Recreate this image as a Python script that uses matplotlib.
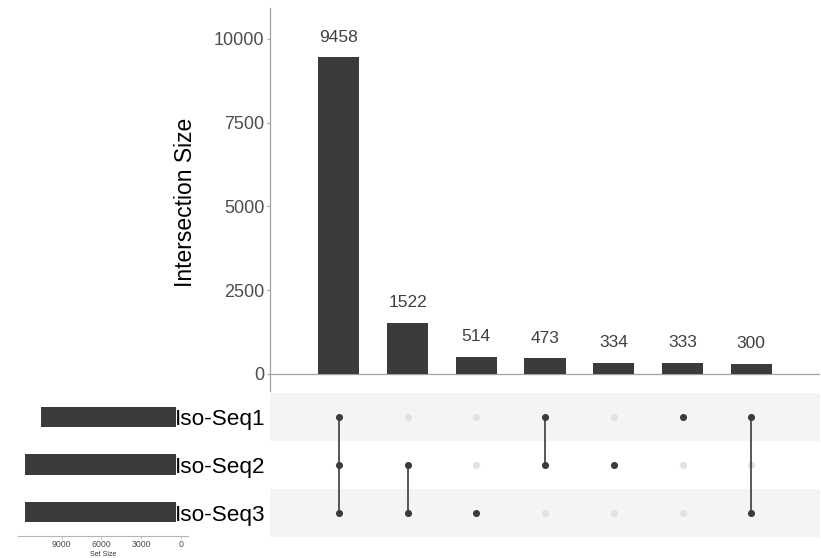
import matplotlib
matplotlib.use("Agg")
import matplotlib.pyplot as plt
from matplotlib.patches import Rectangle

plt.rcParams['font.family'] = ['Liberation Sans', 'DejaVu Sans']

# Sets and their total sizes
set_names = ["Iso-Seq1", "Iso-Seq2", "Iso-Seq3"]
set_sizes = [10564, 11787, 11794]

# Intersections (ordered by size) and which sets take part in each
intersection_sizes = [9458, 1522, 514, 473, 334, 333, 300]
intersection_members = [
    ["Iso-Seq1", "Iso-Seq2", "Iso-Seq3"],
    ["Iso-Seq2", "Iso-Seq3"],
    ["Iso-Seq3"],
    ["Iso-Seq1", "Iso-Seq2"],
    ["Iso-Seq2"],
    ["Iso-Seq1"],
    ["Iso-Seq1", "Iso-Seq3"],
]

count_ticks = [0, 2500, 5000, 7500, 10000]
size_ticks = [9000, 6000, 3000, 0]

W, H = 821, 558
fig = plt.figure(figsize=(W / 100, H / 100), dpi=100)


def px_axes(x0, y0, x1, y1):
    """Axes from a pixel box measured from the top-left corner."""
    return fig.add_axes([x0 / W, 1 - y1 / H, (x1 - x0) / W, (y1 - y0) / H])


BAR = "#3b3b3b"
AXIS = "#a3a3a3"
TICKTXT = "#4d4d4d"
STRIPE = "#f4f4f4"
INACTIVE = "#e1e1e1"

# ---- intersection size bars ----
ax_bar = px_axes(270, 8, 820, 391)
pos = list(range(1, len(intersection_sizes) + 1))
ax_bar.bar(pos, intersection_sizes, width=0.6, color=BAR, zorder=2)
ax_bar.set_xlim(0, 8)
ax_bar.set_ylim(-510, 10925)
ax_bar.axhline(0, color=AXIS, lw=0.9, zorder=1)
for s in ["top", "right", "bottom"]:
    ax_bar.spines[s].set_visible(False)
ax_bar.spines["left"].set_color(AXIS)
ax_bar.spines["left"].set_linewidth(0.9)
ax_bar.set_xticks([])
ax_bar.set_yticks(count_ticks)
ax_bar.tick_params(axis="y", colors=AXIS, labelcolor=TICKTXT, labelsize=13,
                   length=2.5, width=0.8, pad=1.5)
for x, v in zip(pos, intersection_sizes):
    ax_bar.annotate(str(v), (x, v), xytext=(0, 9), textcoords="offset points",
                    ha="center", va="bottom", fontsize=12.5, color="#404040")
fig.text(185 / W, 1 - 202.5 / H, "Intersection Size", rotation=90,
         ha="center", va="center", fontsize=16.5, color="black")

# ---- set size bars (left) ----
ax_s = px_axes(18, 393, 188, 536)
rows = list(range(len(set_names)))
ax_s.barh(rows, set_sizes, height=0.42, color=BAR)
ax_s.set_xlim(12286, -528)
ax_s.set_ylim(2.5, -0.5)
for s in ["top", "right", "left"]:
    ax_s.spines[s].set_visible(False)
ax_s.spines["bottom"].set_color("#b5b5b5")
ax_s.spines["bottom"].set_linewidth(0.8)
ax_s.set_yticks([])
ax_s.set_xticks(size_ticks)
ax_s.tick_params(axis="x", colors="#b5b5b5", labelcolor=TICKTXT, labelsize=6.3,
                 length=2, width=0.6, pad=1)
ax_s.set_xlabel("Set Size", fontsize=5, color="#333333", labelpad=1)
ax_s.set_zorder(0)

# white backing behind the set labels
fig.add_artist(Rectangle((176 / W, 1 - 530 / H), (270 - 176) / W, (530 - 393) / H,
                         transform=fig.transFigure, facecolor="white",
                         edgecolor="none", zorder=1))

# ---- membership matrix ----
ax_m = px_axes(270, 393, 820, 537)
ax_m.set_zorder(2)
ax_m.set_xlim(0, 8)
ax_m.set_ylim(2.5, -0.5)
for r in rows:
    if r % 2 == 0:
        ax_m.axhspan(r - 0.5, r + 0.5, color=STRIPE, lw=0, zorder=0)
for x, members in zip(pos, intersection_members):
    active = [set_names.index(m) for m in members]
    inactive = [r for r in rows if r not in active]
    ax_m.scatter([x] * len(inactive), inactive, s=26, color=INACTIVE,
                 linewidths=0, zorder=2)
    if len(active) > 1:
        ax_m.plot([x, x], [min(active), max(active)], color=BAR, lw=1.2, zorder=3)
    ax_m.scatter([x] * len(active), active, s=26, color=BAR,
                 linewidths=0, zorder=4)
for s in ax_m.spines.values():
    s.set_visible(False)
ax_m.set_xticks([])
ax_m.set_yticks(rows)
ax_m.set_yticklabels(set_names, fontsize=16.2, color="black")
ax_m.tick_params(axis="y", length=0, pad=3)

fig.savefig("out.png", dpi=100)
